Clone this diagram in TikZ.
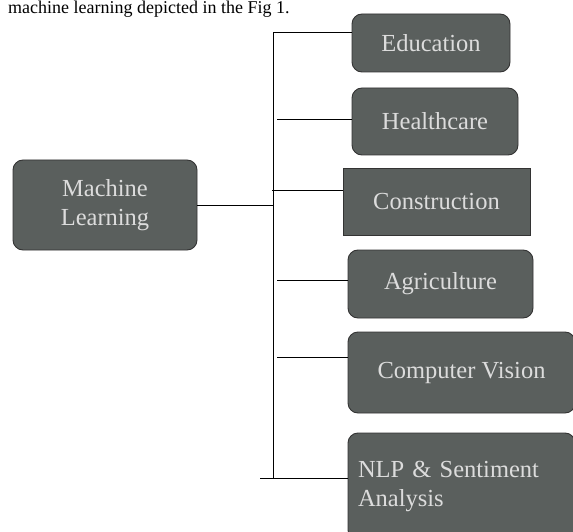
\documentclass[tikz,border=0pt]{standalone}
\usepackage{fontspec}
\setmainfont{Liberation Serif}
\begin{document}
\begin{tikzpicture}[x=1pt,y=-1pt,
  box/.style={draw=black!80, line width=0.9pt, fill=boxfill, rounded corners=10pt,
    text=boxtext, font=\fontsize{24.5}{29}\selectfont, inner sep=0pt, align=center},
  conn/.style={draw=black, line width=1pt}]
\definecolor{boxfill}{HTML}{5A5F5D}
\definecolor{boxtext}{HTML}{DCDCDC}
\useasboundingbox (0,0) rectangle (573,532);
\fill[white] (0,0) rectangle (573,532);
% caption text
\node[anchor=base west, inner sep=0pt, font=\fontsize{18}{22}\selectfont] (cap) at (8,14) {machine learning depicted in the Fig 1.};
% boxes
\node[box, minimum width=184pt, minimum height=90pt] (ml) at (105,205) {Machine\\Learning};
\node[box, minimum width=158pt, minimum height=58pt] (edu) at (431,43) {Education};
\node[box, minimum width=166pt, minimum height=67pt] (hc) at (435,121.5) {Healthcare};
\node[box, rounded corners=0pt, minimum width=187pt, minimum height=67pt] (con) at (436.5,201.5) {Construction};
\node[box, minimum width=185pt, minimum height=68pt] (agr) at (440.5,284) {Agriculture};
\node[box, minimum width=227pt, minimum height=81pt] (cv) at (461.5,372.5) {Computer Vision};
\node[box, minimum width=227pt, minimum height=107pt, text width=207pt, align=left] (nlp) at (461.5,486.5) {NLP \& Sentiment\\Analysis};
% trunk
\coordinate (ttop) at (273,33);
\coordinate (tbot) at (273,478);
\draw[conn] (ttop) -- (tbot);
\draw[conn] (ml.east |- 0,205) -- (273,205);
\draw[conn] (ttop) -- (ttop -| edu.west);
\coordinate (hcs) at (277,120);
\draw[conn] (hcs) -- (hcs -| hc.west);
\coordinate (cons) at (272,190);
\draw[conn] (cons) -- (cons -| con.west);
\coordinate (agrs) at (277,280);
\draw[conn] (agrs) -- (agrs -| agr.west);
\coordinate (cvs) at (277,357);
\draw[conn] (cvs) -- (cvs -| cv.west);
\coordinate (nlps) at (260,478);
\draw[conn] (nlps) -- (nlps -| nlp.west);
\end{tikzpicture}
\end{document}
